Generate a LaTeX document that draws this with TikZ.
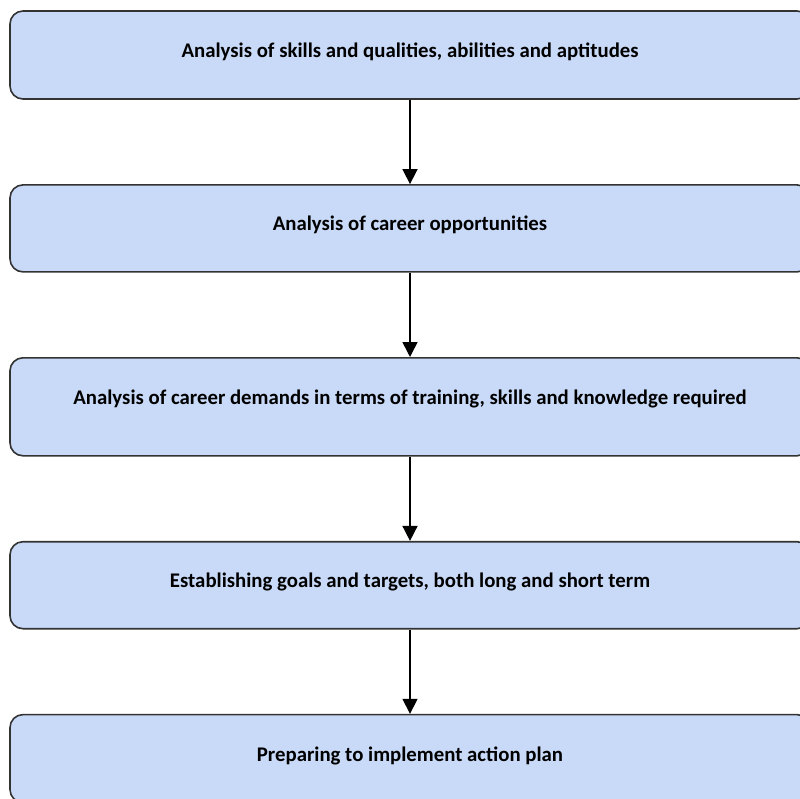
\documentclass[tikz,border=0pt]{standalone}
\usepackage{fontspec}
\setmainfont{Carlito}
\usetikzlibrary{positioning, arrows.meta}
\definecolor{boxblue}{HTML}{C9DAF8}

\begin{document}
\begin{tikzpicture}[>={Triangle[length=15pt, width=15pt]}, node distance = 84.3pt,
    stage/.style = {draw = black!80, line width = 1.6pt, fill = boxblue, rounded corners = 13pt,
      minimum width = 800pt, minimum height = 87pt, inner sep = 0pt,
      text height = 13pt, text depth = 8pt,
      font = \fontsize{20.8}{24}\selectfont\bfseries},
    flow/.style = {->, line width = 1.6pt}]
            \useasboundingbox (0,0) rectangle (800pt,-798pt);

            \node[stage, minimum height = 88pt] (1) at (410pt,-55pt) {Analysis of skills and qualities, abilities and aptitudes};
            \node[stage] (2) [below = of 1] {Analysis of career opportunities};
            \node[stage, minimum height = 98pt, text depth = 18pt] (3) [below = of 2] {Analysis of career demands in terms of training, skills and knowledge required};
            \node[stage] (4) [below = of 3] {Establishing goals and targets, both long and short term};
            \node[stage, minimum height = 88pt] (5) [below = of 4] {Preparing to implement action plan};

            \path[flow]
              (1) edge (2)
              (2) edge (3)
              (3) edge (4)
              (4) edge (5)
            ;
          \end{tikzpicture}
\end{document}
